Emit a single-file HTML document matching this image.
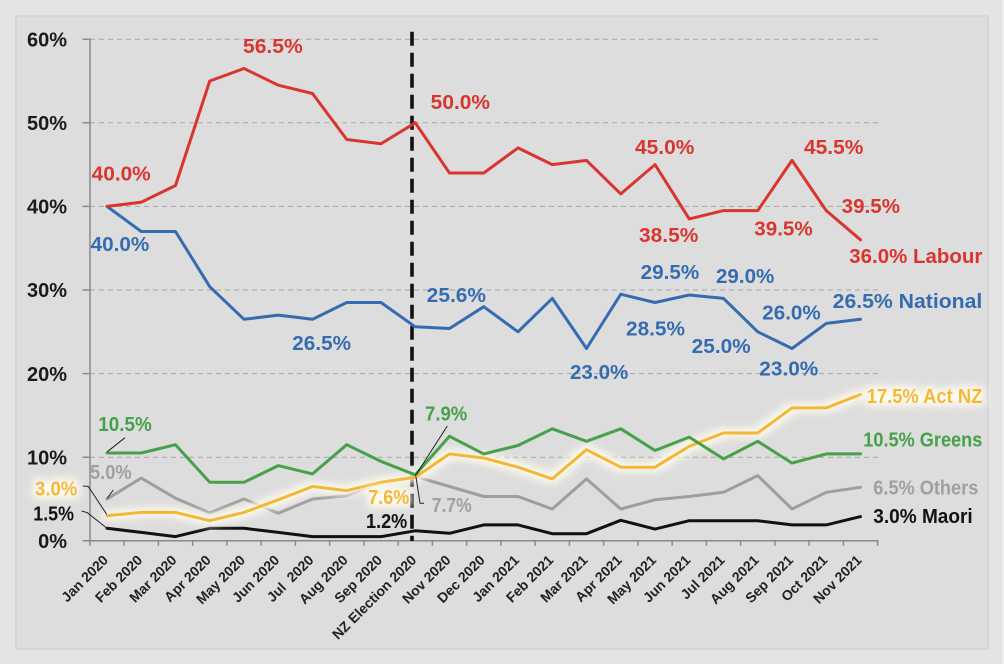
<!DOCTYPE html>
<html><head><meta charset="utf-8">
<style>
html,body{margin:0;padding:0;background:#e4e4e4;}
svg{display:block;}
text{font-family:"Liberation Sans",Arial,sans-serif;font-weight:bold;}
</style></head>
<body>
<svg width="1004" height="664" viewBox="0 0 1004 664" xmlns="http://www.w3.org/2000/svg">
<defs>
<filter id="glow" filterUnits="userSpaceOnUse" x="0" y="0" width="1004" height="664">
 <feMorphology in="SourceAlpha" operator="dilate" radius="3" result="d"/>
 <feGaussianBlur in="d" stdDeviation="4" result="b"/>
 <feFlood flood-color="#fffcec" flood-opacity="1"/>
 <feComposite in2="b" operator="in" result="g"/>
 <feMerge><feMergeNode in="g"/><feMergeNode in="SourceGraphic"/></feMerge>
</filter>
</defs>
<rect x="0" y="0" width="1004" height="664" fill="#e4e4e4"/>
<rect x="1002" y="0" width="2" height="664" fill="#ededed"/>
<rect x="16" y="16" width="972" height="633" fill="#dddddd" stroke="#cdcdcd" stroke-width="1"/>

<!-- gridlines -->
<g stroke="#a8a8a8" stroke-width="1" stroke-dasharray="5 4">
<line x1="90" y1="39.2" x2="879" y2="39.2"/>
<line x1="90" y1="122.8" x2="879" y2="122.8"/>
<line x1="90" y1="206.4" x2="879" y2="206.4"/>
<line x1="90" y1="290" x2="879" y2="290"/>
<line x1="90" y1="373.6" x2="879" y2="373.6"/>
<line x1="90" y1="457.2" x2="879" y2="457.2"/>
</g>

<!-- axes -->
<g stroke="#8a8a8a" stroke-width="1.5" fill="none">
<line x1="90" y1="38.5" x2="90" y2="541"/>
<line x1="89.3" y1="540.8" x2="878.5" y2="540.8"/>
<path d="M82.5,39.2H90M82.5,122.8H90M82.5,206.4H90M82.5,290H90M82.5,373.6H90M82.5,457.2H90M82.5,540.8H90"/>
<path d="M89.9,540.8v5M124.15,540.8v5M158.4,540.8v5M192.65,540.8v5M226.9,540.8v5M261.15,540.8v5M295.4,540.8v5M329.65,540.8v5M363.9,540.8v5M398.15,540.8v5M432.4,540.8v5M466.65,540.8v5M500.9,540.8v5M535.15,540.8v5M569.4,540.8v5M603.65,540.8v5M637.9,540.8v5M672.15,540.8v5M706.4,540.8v5M740.65,540.8v5M774.9,540.8v5M809.15,540.8v5M843.4,540.8v5M877.65,540.8v5"/>
</g>

<!-- y labels -->
<g font-size="20" fill="#1a1a1a" text-anchor="end">
<text x="67" y="46.5">60%</text>
<text x="67" y="130">50%</text>
<text x="67" y="213.6">40%</text>
<text x="67" y="297.2">30%</text>
<text x="67" y="380.8">20%</text>
<text x="67" y="464.4">10%</text>
<text x="67" y="548">0%</text>
</g>

<!-- election dashed line -->
<line x1="412" y1="31.7" x2="412" y2="541" stroke="#111" stroke-width="3.6" stroke-dasharray="14 7"/>

<!-- series -->
<g fill="none" stroke-width="3" stroke-linejoin="round" stroke-linecap="round">
<polyline stroke="#111111" points="107,528.3 141.25,532.4 175.5,536.6 209.75,528.3 244,528.3 278.25,532.4 312.5,536.6 346.75,536.6 381,536.6 415.25,530.8 449.5,533.3 483.75,524.9 518,524.9 552.25,533.7 586.5,533.7 620.75,520.3 655,529.1 689.25,520.7 723.5,520.7 757.75,520.7 792,524.9 826.25,524.9 860.5,516.6"/>
<polyline stroke="#9e9e9e" points="107,499 141.25,478.1 175.5,498.2 209.75,512.8 244,499 278.25,513.2 312.5,499 346.75,495.7 381,482.3 415.25,476.4 449.5,486.5 483.75,496.5 518,496.5 552.25,509 586.5,478.9 620.75,509 655,499.8 689.25,496.5 723.5,492.3 757.75,475.6 792,509 826.25,492.3 860.5,487.3"/>
<polyline stroke="#f5b731" filter="url(#glow)" points="107,515.7 141.25,512.4 175.5,512.4 209.75,520.7 244,512.4 278.25,499.8 312.5,486.5 346.75,490.6 381,482.3 415.25,477.3 449.5,453.9 483.75,458 518,467.2 552.25,478.9 586.5,449.7 620.75,467.2 655,467.2 689.25,446.3 723.5,433 757.75,433 792,407.9 826.25,407.9 860.5,394.5"/>
<polyline stroke="#47a04a" points="107,453 141.25,453 175.5,444.7 209.75,482.3 244,482.3 278.25,465.6 312.5,473.9 346.75,444.7 381,461.4 415.25,474.8 449.5,436.3 483.75,453.9 518,445.5 552.25,428.8 586.5,441.3 620.75,428.8 655,450.5 689.25,437.1 723.5,458.9 757.75,441.3 792,463.1 826.25,453.9 860.5,453.9"/>
<polyline stroke="#356cb0" points="107,206.4 141.25,231.5 175.5,231.5 209.75,286.7 244,319.3 278.25,315.1 312.5,319.3 346.75,302.5 381,302.5 415.25,326.8 449.5,328.5 483.75,306.7 518,331.8 552.25,298.4 586.5,348.5 620.75,294.2 655,302.5 689.25,295 723.5,298.4 757.75,331.8 792,348.5 826.25,323.4 860.5,319.3"/>
<polyline stroke="#d9352f" points="107,206.4 141.25,202.2 175.5,185.5 209.75,81 244,68.5 278.25,85.2 312.5,93.5 346.75,139.5 381,143.7 415.25,122.8 449.5,173 483.75,173 518,147.9 552.25,164.6 586.5,160.4 620.75,193.9 655,164.6 689.25,218.9 723.5,210.6 757.75,210.6 792,160.4 826.25,210.6 860.5,239.8"/>
</g>

<!-- leader lines -->
<g fill="none" stroke="#222" stroke-width="1">
<path d="M125,437.7L107.3,451.7"/>
<path d="M113.3,490L107,498.5"/>
<path d="M82.7,486L88.3,486.5L106.7,514.3"/>
<path d="M81.7,511L87.3,512.7L106.7,528"/>
<path d="M447.3,426L415.2,476"/>
<path d="M416,477L420,503.3L424,503.3"/>
</g>

<!-- data labels -->
<g font-size="20">
<g fill="#d9352f">
<text x="91.7" y="180.5" textLength="59" lengthAdjust="spacingAndGlyphs">40.0%</text>
<text x="243" y="53.2" textLength="59.7" lengthAdjust="spacingAndGlyphs">56.5%</text>
<text x="430.7" y="108.9" textLength="59.3" lengthAdjust="spacingAndGlyphs">50.0%</text>
<text x="635" y="154.2" textLength="59.3" lengthAdjust="spacingAndGlyphs">45.0%</text>
<text x="639" y="242.2" textLength="59.3" lengthAdjust="spacingAndGlyphs">38.5%</text>
<text x="754.3" y="235.5" textLength="58.4" lengthAdjust="spacingAndGlyphs">39.5%</text>
<text x="804" y="153.9" textLength="59.3" lengthAdjust="spacingAndGlyphs">45.5%</text>
<text x="841.7" y="213.2" textLength="58.3" lengthAdjust="spacingAndGlyphs">39.5%</text>
<text x="849.3" y="263.2" textLength="133" lengthAdjust="spacingAndGlyphs">36.0% Labour</text>
</g>
<g fill="#356cb0">
<text x="90.7" y="251.2" textLength="58.6" lengthAdjust="spacingAndGlyphs">40.0%</text>
<text x="292.3" y="349.9" textLength="58.7" lengthAdjust="spacingAndGlyphs">26.5%</text>
<text x="426.7" y="302.2" textLength="59.3" lengthAdjust="spacingAndGlyphs">25.6%</text>
<text x="570" y="378.9" textLength="58.3" lengthAdjust="spacingAndGlyphs">23.0%</text>
<text x="640.7" y="278.9" textLength="58.6" lengthAdjust="spacingAndGlyphs">29.5%</text>
<text x="626" y="335.5" textLength="59" lengthAdjust="spacingAndGlyphs">28.5%</text>
<text x="716" y="283.2" textLength="58.3" lengthAdjust="spacingAndGlyphs">29.0%</text>
<text x="691.7" y="353.2" textLength="59" lengthAdjust="spacingAndGlyphs">25.0%</text>
<text x="762.3" y="319.5" textLength="58.4" lengthAdjust="spacingAndGlyphs">26.0%</text>
<text x="759.3" y="375.5" textLength="59" lengthAdjust="spacingAndGlyphs">23.0%</text>
<text x="832.7" y="308.2" textLength="149.6" lengthAdjust="spacingAndGlyphs">26.5% National</text>
</g>
<g fill="#47a04a">
<text x="98.3" y="431.2" textLength="53.4" lengthAdjust="spacingAndGlyphs">10.5%</text>
<text x="425" y="420.5" textLength="42.3" lengthAdjust="spacingAndGlyphs">7.9%</text>
<text x="863.3" y="446.5" textLength="119" lengthAdjust="spacingAndGlyphs">10.5% Greens</text>
</g>
<g fill="#a0a0a0">
<text x="90" y="478.9" textLength="41.7" lengthAdjust="spacingAndGlyphs">5.0%</text>
<text x="431.7" y="512.2" textLength="40" lengthAdjust="spacingAndGlyphs">7.7%</text>
<text x="873.3" y="494.5" textLength="105" lengthAdjust="spacingAndGlyphs">6.5% Others</text>
</g>
<g fill="#111111">
<text x="33.3" y="520.5" textLength="40.7" lengthAdjust="spacingAndGlyphs">1.5%</text>
<text x="366" y="527.9" textLength="41.3" lengthAdjust="spacingAndGlyphs">1.2%</text>
<text x="873.3" y="522.9" textLength="99.4" lengthAdjust="spacingAndGlyphs">3.0% Maori</text>
</g>
<g fill="#f5b731" filter="url(#glow)">
<text x="35" y="495.5" textLength="42.3" lengthAdjust="spacingAndGlyphs">3.0%</text>
<text x="368.3" y="503.9" textLength="41" lengthAdjust="spacingAndGlyphs">7.6%</text>
<text x="866.7" y="403.2" textLength="115.6" lengthAdjust="spacingAndGlyphs">17.5% Act NZ</text>
</g>
</g>

<!-- x labels -->
<g font-size="14" fill="#222" text-anchor="end">
<text transform="translate(109,561) rotate(-45)">Jan 2020</text>
<text transform="translate(143.25,561) rotate(-45)">Feb 2020</text>
<text transform="translate(177.5,561) rotate(-45)">Mar 2020</text>
<text transform="translate(211.75,561) rotate(-45)">Apr 2020</text>
<text transform="translate(246,561) rotate(-45)">May 2020</text>
<text transform="translate(280.25,561) rotate(-45)">Jun 2020</text>
<text transform="translate(314.5,561) rotate(-45)" xml:space="preserve">Jul  2020</text>
<text transform="translate(348.75,561) rotate(-45)">Aug 2020</text>
<text transform="translate(383,561) rotate(-45)">Sep 2020</text>
<text transform="translate(417.25,561) rotate(-45)">NZ Election 2020</text>
<text transform="translate(451.5,561) rotate(-45)">Nov 2020</text>
<text transform="translate(485.75,561) rotate(-45)">Dec 2020</text>
<text transform="translate(520,561) rotate(-45)">Jan 2021</text>
<text transform="translate(554.25,561) rotate(-45)">Feb 2021</text>
<text transform="translate(588.5,561) rotate(-45)">Mar 2021</text>
<text transform="translate(622.75,561) rotate(-45)">Apr 2021</text>
<text transform="translate(657,561) rotate(-45)">May 2021</text>
<text transform="translate(691.25,561) rotate(-45)">Jun 2021</text>
<text transform="translate(725.5,561) rotate(-45)">Jul 2021</text>
<text transform="translate(759.75,561) rotate(-45)">Aug 2021</text>
<text transform="translate(794,561) rotate(-45)">Sep 2021</text>
<text transform="translate(828.25,561) rotate(-45)">Oct 2021</text>
<text transform="translate(862.5,561) rotate(-45)">Nov 2021</text>
</g>
</svg>
</body></html>
